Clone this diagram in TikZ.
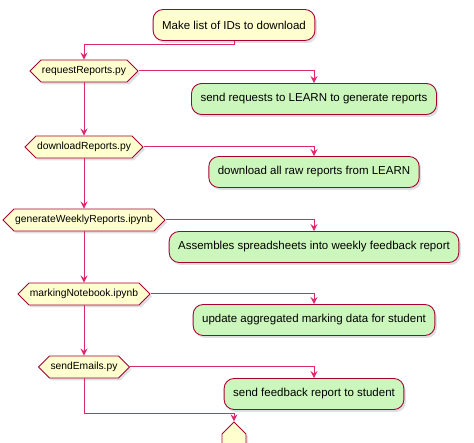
\documentclass[tikz,border=0pt]{standalone}
\usepackage{fontspec}
\setmainfont{Liberation Sans}
\usetikzlibrary{shapes.symbols,arrows.meta,shadows}

\definecolor{umlborder}{RGB}{168,0,54}
\definecolor{umlline}{RGB}{222,40,110}
\definecolor{umlyellow}{RGB}{254,254,206}
\definecolor{umlgreen}{RGB}{204,247,188}

\begin{document}
\begin{tikzpicture}[x=1pt,y=-1pt,
                    shade_box/.style ={drop shadow={shadow xshift=2pt,shadow yshift=-2.5pt,opacity=0.25}},
                    block_start/.style ={rectangle, rounded corners=10pt, draw=umlborder, line width=0.9pt,
                      fill=umlyellow, shade_box, inner xsep=9pt, minimum height=31pt,
                      font=\fontsize{11.5}{13}\selectfont},
                    block_action/.style ={block_start, fill=umlgreen},
                    block_script/.style ={signal, signal to=west and east, draw=umlborder, line width=0.9pt,
                      fill=umlyellow, shade_box, inner xsep=1pt, inner ysep=0pt, minimum height=22pt,
                      font=\fontsize{10.3}{12}\selectfont},
                    block_merge/.style ={signal, signal to=north and south, draw=umlborder, line width=0.9pt,
                      fill=umlyellow, shade_box, inner sep=0pt, minimum width=24pt, minimum height=30pt},
                    flow/.style ={draw=umlline, line width=1pt, -{Stealth[length=7pt,width=7pt,inset=2.5pt]}}]
  \useasboundingbox (0,0) rectangle (474,443);

  % start
  \node [block_start] (ids) at (234,25) {Make list of IDs to download};

  % scripts on the left
  \node [block_script] (req)  at (84,71)  {requestReports.py};
  \node [block_script] (down) at (84,147) {downloadReports.py};
  \node [block_script] (week) at (84,220) {generateWeeklyReports.ipynb};
  \node [block_script] (mark) at (84,294) {markingNotebook.ipynb};
  \node [block_script] (mail) at (84,367) {sendEmails.py};

  % actions on the right
  \node [block_action] (reqa)  at (314,99)  {send requests to LEARN to generate reports};
  \node [block_action] (downa) at (314,172) {download all raw reports from LEARN};
  \node [block_action] (weeka) at (314,247) {Assembles spreadsheets into weekly feedback report};
  \node [block_action] (marka) at (314,320) {update aggregated marking data for student};
  \node [block_action] (maila) at (314,394) {send feedback report to student};

  % merge
  \node [block_merge] (merge) at (234,449) {};

  % connecting nodes with paths
  \path [flow] (ids.south) -- ++(0,4) -| (req.north);
  \path [flow] (req.south)  -- (down.north);
  \path [flow] (down.south) -- (week.north);
  \path [flow] (week.south) -- (mark.north);
  \path [flow] (mark.south) -- (mail.north);
  \path [flow] (req.east)  -| (reqa.north);
  \path [flow] (down.east) -| (downa.north);
  \path [flow] (week.east) -| (weeka.north);
  \path [flow] (mark.east) -| (marka.north);
  \path [flow] (mail.east) -| (maila.north);
  \path [flow] (mail.south) -- ++(0,35) -| (merge.north);
\end{tikzpicture}
\end{document}
